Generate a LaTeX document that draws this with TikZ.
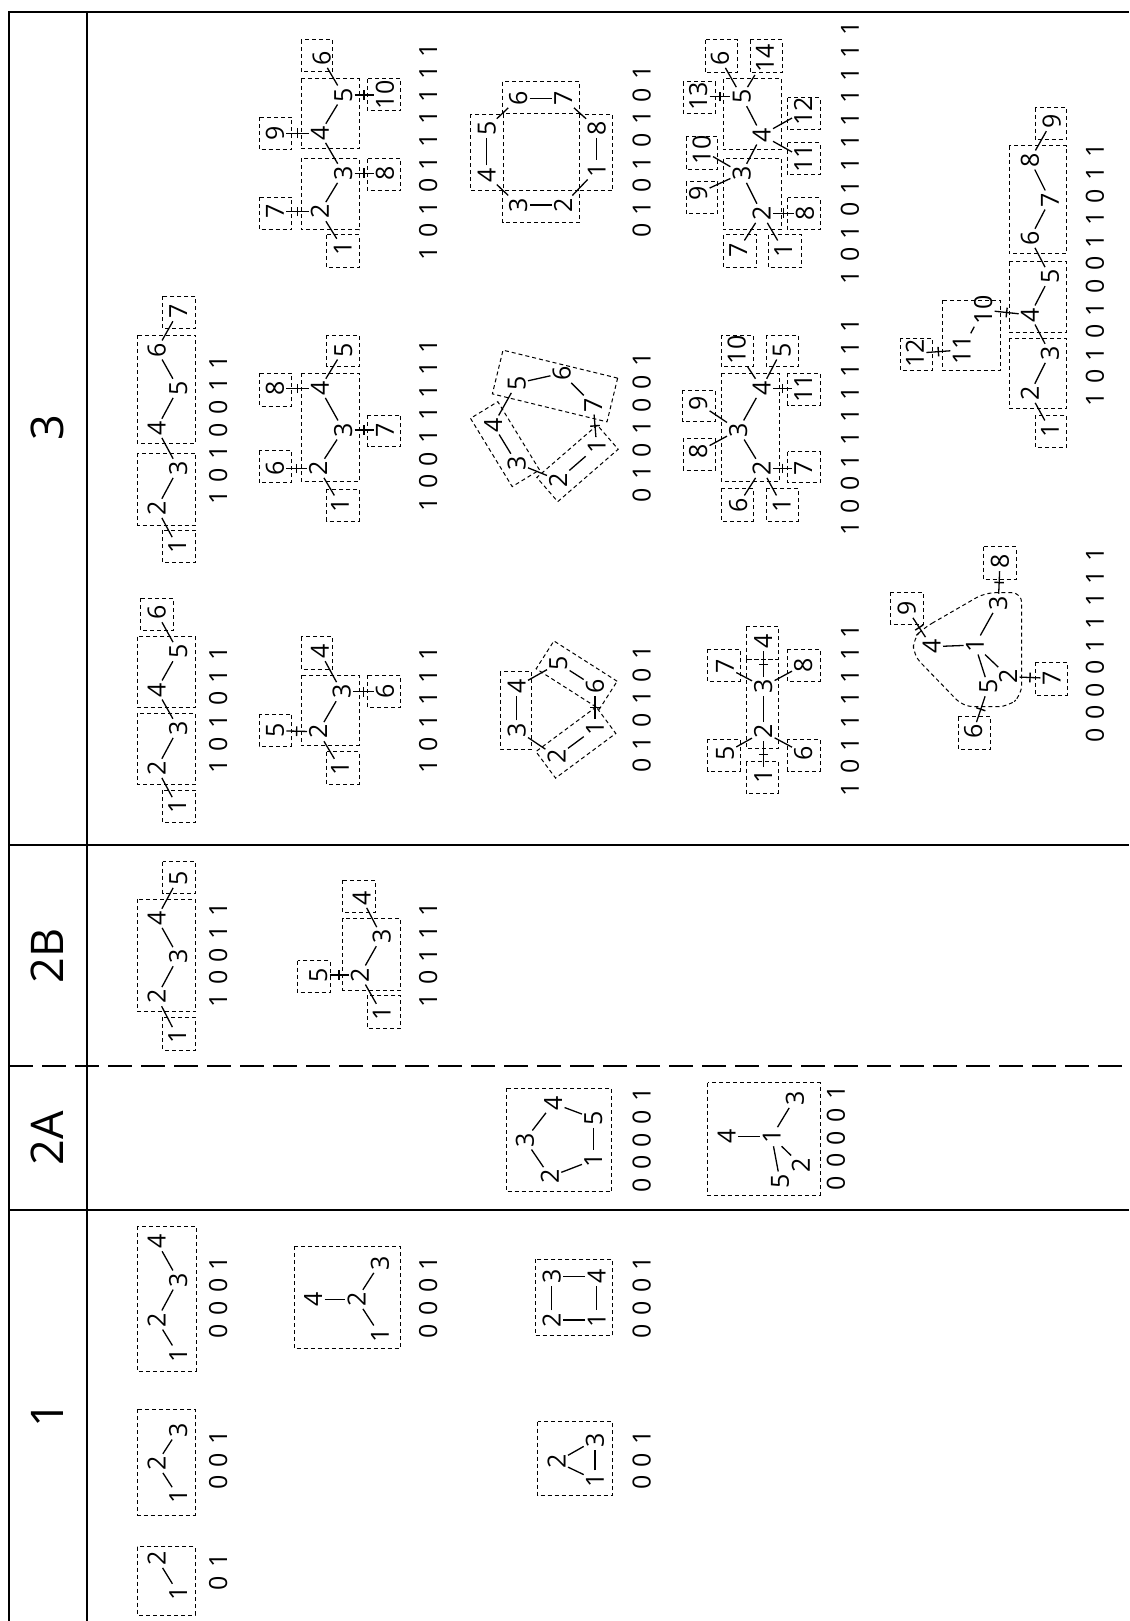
\documentclass[tikz,border=0pt]{standalone}
\usepackage{fontspec}
\setmainfont{Open Sans}
\usetikzlibrary{decorations.markings}
\newcommand\nf{\fontsize{12.5}{15}\selectfont}
\newcommand\hf{\fontsize{22.5}{27}\selectfont}
\newcommand\bitsloop[1]{\ifx\relax#1\else\makebox[11.3pt]{#1}\expandafter\bitsloop\fi}
\newcommand\bitstr[1]{\bitsloop#1\relax}
\newcommand\vx[4]{\node[v] (#1) at (#2,#3) {#4};}
\newcommand\bxr[4]{\draw[bx] (#1,#2) rectangle (#3,#4);}
\newcommand\edg[2]{\draw[e] (#1) -- (#2);}
\newcommand\edt[2]{\draw[tk] (#1) -- (#2);}
\newcommand\bnode[4]{\node[bt] (#1) at (#2,#3) {\bitstr{#4}};}
\begin{document}
\begin{tikzpicture}[x=0.5pt,y=-0.5pt,
 v/.style={rotate=90,font=\nf,inner sep=1pt,text height=8.9pt,text depth=0pt},
 bt/.style={rotate=90,font=\nf,inner sep=0pt,text height=8.9pt,text depth=0pt},
 hd/.style={rotate=90,font=\hf,inner sep=0pt},
 bx/.style={draw,line width=0.5pt,dash pattern=on 2pt off 1.5pt},
 e/.style={line width=0.65pt},
 tk/.style={line width=0.65pt,postaction={decorate,decoration={markings,mark=at position 0.5 with {\draw[line width=0.7pt] (0pt,-2.4pt) -- (0pt,2.4pt);}}}},
 fr/.style={line width=1pt},
 sep/.style={line width=0.6pt}]
\useasboundingbox (0,0) rectangle (1129,1621);
% frame
\draw[fr] (9,1621) -- (9,12) -- (1129,12);
\draw[fr] (87,12) -- (87,1621);
\draw[sep] (9,845) -- (1129,845);
\draw[sep] (9,1210) -- (1129,1210);
\draw[line width=0.75pt,dash pattern=on 12pt off 4.5pt] (9,1066) -- (1129,1066);
\node[hd] (hC) at (47,428) {3};
\node[hd] (hB) at (47,956) {2B};
\node[hd] (hA) at (47,1138) {2A};
\node[hd] (hO) at (47,1415) {1};
% ---- column 1
\bxr{137.3}{1546.7}{195}{1615}
\vx{a1}{178.3}{1593.3}{1}\vx{a2}{156.7}{1558.3}{2}
\edg{a1}{a2}
\bnode{ab}{218.3}{1572}{01}
\bxr{137.3}{1409.3}{195}{1515}
\vx{b1}{178.3}{1496.7}{1}\vx{b2}{156.7}{1463.3}{2}\vx{b3}{178.3}{1430}{3}
\edg{b1}{b2}\edg{b2}{b3}
\bnode{bb}{218.3}{1460}{001}
\bxr{137.3}{1226}{196}{1371}
\vx{c1}{178.3}{1355}{1}\vx{c2}{156.7}{1320}{2}\vx{c3}{178.3}{1280}{3}\vx{c4}{156.7}{1241.7}{4}
\edg{c1}{c2}\edg{c2}{c3}\edg{c3}{c4}
\bnode{cb}{218.3}{1297}{0001}
\bxr{294.3}{1246}{400}{1348.7}
\vx{d4}{313.3}{1299.3}{4}\vx{d2}{356.7}{1299.3}{2}\vx{d3}{380}{1263.3}{3}\vx{d1}{380}{1335}{1}
\edg{d4}{d2}\edg{d2}{d3}\edg{d2}{d1}
\bnode{db}{428.3}{1297}{0001}
\bxr{535}{1259.3}{612.3}{1335.7}
\vx{e3}{551.7}{1276.7}{3}\vx{e4}{596.7}{1276.7}{4}\vx{e2}{551.7}{1320}{2}\vx{e1}{596.7}{1320}{1}
\edg{e2}{e3}\edg{e3}{e4}\edg{e4}{e1}\edg{e1}{e2}
\bnode{eb}{641.7}{1297}{0001}
\bxr{537.7}{1421.7}{612.3}{1495.7}
\vx{f2}{556.7}{1461.7}{2}\vx{f3}{595}{1440}{3}\vx{f1}{595}{1480}{1}
\edg{f2}{f3}\edg{f2}{f1}\edg{f1}{f3}
\bnode{fb}{641.7}{1460}{001}
% ---- column 2A
\bxr{506}{1088.3}{611.7}{1191.7}
\vx{g4}{553.3}{1103.3}{4}\vx{g5}{593.3}{1118.3}{5}\vx{g1}{593.3}{1160}{1}\vx{g2}{550}{1176.7}{2}\vx{g3}{525}{1140}{3}
\edg{g3}{g4}\edg{g4}{g5}\edg{g5}{g1}\edg{g1}{g2}\edg{g2}{g3}
\bnode{gb}{641.7}{1140}{00001}
\bxr{707.7}{1082.7}{820}{1195}
\vx{h4}{726.7}{1136.7}{4}\vx{h1}{771.7}{1136.7}{1}\vx{h3}{795}{1098.3}{3}\vx{h2}{801}{1165}{2}\vx{h5}{780}{1181}{5}
\edg{h4}{h1}\edg{h1}{h3}\edg{h1}{h2}\edg{h1}{h5}
\bnode{hb}{836}{1138}{00001}
% ---- column 2B
\bxr{162.7}{1017.3}{195.7}{1050}\bxr{137.3}{899.3}{195.7}{1011.7}\bxr{162.7}{861.7}{195.7}{893.3}
\vx{i1}{177.3}{1036.7}{1}\vx{i2}{156.7}{996.7}{2}\vx{i3}{178.3}{956.7}{3}\vx{i4}{156.7}{918.3}{4}\vx{i5}{178.3}{878.3}{5}
\edg{i1}{i2}\edg{i2}{i3}\edg{i3}{i4}\edg{i4}{i5}
\bnode{ib}{218.3}{955}{10011}
\bxr{342.7}{918.3}{400.7}{990}\bxr{297.7}{960.7}{330}{992.7}\bxr{367.7}{995}{400.7}{1028.3}\bxr{342.7}{880}{375}{912.7}
\vx{j5}{318.3}{975}{5}\vx{j2}{360}{975}{2}\vx{j3}{381.7}{936.7}{3}\vx{j4}{361.7}{898.3}{4}\vx{j1}{381.7}{1013.3}{1}
\edg{j1}{j2}\edg{j2}{j3}\edg{j3}{j4}\edt{j5}{j2}
\bnode{jb}{428.3}{955}{10111}
% ---- column 3, row 1
\bxr{162.7}{790}{195.7}{822.7}\bxr{137.3}{713.3}{195.7}{784.3}\bxr{137.3}{636.7}{195.7}{707.3}\bxr{140.7}{598.3}{173.3}{630.7}
\vx{k1}{177.3}{806.7}{1}\vx{k2}{156.7}{768.3}{2}\vx{k3}{178.3}{728.3}{3}\vx{k4}{156.7}{690}{4}\vx{k5}{178.3}{651.7}{5}\vx{k6}{156.7}{612.7}{6}
\edg{k1}{k2}\edg{k2}{k3}\edg{k3}{k4}\edg{k4}{k5}\edg{k5}{k6}
\bnode{kb}{218.3}{710}{101011}
\bxr{162.7}{530}{195.7}{562.7}\bxr{137.3}{453.3}{195.7}{525}\bxr{137.3}{335}{195.7}{443.3}\bxr{162.7}{296}{195.7}{328.3}
\vx{l1}{177.3}{546.7}{1}\vx{l2}{156.7}{508.3}{2}\vx{l3}{178.3}{468.3}{3}\vx{l4}{156.7}{428.3}{4}\vx{l5}{178.3}{388.3}{5}\vx{l6}{156.7}{350}{6}\vx{l7}{178.3}{311.7}{7}
\edg{l1}{l2}\edg{l2}{l3}\edg{l3}{l4}\edg{l4}{l5}\edg{l5}{l6}\edg{l6}{l7}
\bnode{lb}{218.3}{430}{1010011}
% ---- row 2
\bxr{301}{675}{359}{745.7}\bxr{326.7}{751.7}{359}{784}\bxr{301}{636.7}{332.7}{669}\bxr{259.3}{714}{291.7}{746}\bxr{367.7}{675}{400.7}{707.3}
\vx{m1}{340}{768.3}{1}\vx{m2}{318.3}{731.7}{2}\vx{m3}{341.7}{691.7}{3}\vx{m4}{320}{651.7}{4}\vx{m5}{275}{730.7}{5}\vx{m6}{385}{691.7}{6}
\edg{m1}{m2}\edg{m2}{m3}\edg{m3}{m4}\edt{m5}{m2}\edt{m3}{m6}
\bnode{mb}{428.3}{710}{101111}
\bxr{326.7}{489}{359}{521}\bxr{259.3}{450.7}{291.7}{482.7}\bxr{301}{373.3}{359}{481.7}\bxr{326.7}{335}{359}{366.7}\bxr{259.3}{373.3}{291.7}{406}\bxr{367.7}{415}{400.7}{446.7}
\vx{n1}{340}{505}{1}\vx{n2}{318.3}{468.3}{2}\vx{n3}{343.3}{430}{3}\vx{n4}{320}{388.3}{4}\vx{n5}{343.3}{350}{5}\vx{n6}{275}{468.3}{6}\vx{n7}{385}{430}{7}\vx{n8}{275}{388.3}{8}
\edg{n1}{n2}\edg{n2}{n3}\edg{n3}{n4}\edg{n4}{n5}\edt{n6}{n2}\edt{n8}{n4}\edt{n3}{n7}
\bnode{nb}{428.3}{425}{10011111}
\bxr{326.7}{235}{359}{267.7}\bxr{301}{158.3}{359}{230}\bxr{301}{79}{359}{149}\bxr{301}{40}{332.7}{71.7}\bxr{259.3}{197.3}{291.7}{230}\bxr{259.3}{117.3}{291.7}{150}\bxr{367.7}{159}{400.7}{191}\bxr{367.7}{79}{400.7}{111}
\vx{o1}{342.7}{248.3}{1}\vx{o2}{320}{211.7}{2}\vx{o3}{343.3}{173.3}{3}\vx{o4}{320}{133.3}{4}\vx{o5}{343.3}{95}{5}\vx{o6}{321.7}{58.3}{6}\vx{o7}{275}{211.7}{7}\vx{o8}{385}{173.3}{8}\vx{o9}{275}{133.3}{9}\vx{o10}{385}{95}{10}
\edg{o1}{o2}\edg{o2}{o3}\edg{o3}{o4}\edg{o4}{o5}\edg{o5}{o6}\edt{o7}{o2}\edt{o9}{o4}\edt{o3}{o8}\edt{o5}{o10}
\bnode{ob}{428.3}{151.7}{1010111111}
% ---- row 3
\bxr{500}{671.7}{531.7}{749}
\vx{p3}{516.7}{730}{3}\vx{p4}{516.7}{686.7}{4}\vx{p5}{558.3}{663.3}{5}\vx{p6}{595}{686.7}{6}\vx{p1}{595}{728.3}{1}\vx{p2}{556.7}{756.7}{2}
\path (p5) -- node[bx,sloped,minimum width=37.5pt,minimum height=16.5pt] (p56) {} (p6);
\path (p2) -- node[bx,sloped,minimum width=37.5pt,minimum height=16.5pt] (p12) {} (p1);
\edg{p3}{p4}\edg{p4}{p5}\edg{p5}{p6}\edt{p6}{p1}\edg{p1}{p2}\edg{p2}{p3}
\bnode{pb}{641.7}{709}{010101}
\vx{q5}{516.7}{383.3}{5}\vx{q6}{561.7}{373.3}{6}\vx{q7}{593.3}{405}{7}\vx{q1}{596.7}{446.7}{1}\vx{q2}{558.3}{480}{2}\vx{q3}{516.7}{463.3}{3}\vx{q4}{493.3}{425}{4}
\node[bx,rotate=-13.7,minimum width=59pt,minimum height=22.5pt] (q567) at (555,386) {};
\path (q2) -- node[bx,sloped,minimum width=40pt,minimum height=16pt] (q12) {} (q1);
\path (q4) -- node[bx,sloped,minimum width=40pt,minimum height=16pt] (q34) {} (q3);
\edg{q4}{q5}\edg{q5}{q6}\edg{q6}{q7}\edt{q7}{q1}\edg{q1}{q2}\edg{q2}{q3}\edg{q3}{q4}
\bnode{qb}{641.7}{427.5}{0101001}
\bxr{470.7}{114.3}{503.3}{191}\bxr{502.7}{81.7}{579.3}{113.3}\bxr{579.3}{114.3}{612.3}{191}\bxr{502.7}{191}{579.3}{222.7}
\vx{r4}{486.7}{175}{4}\vx{r5}{486.7}{128.3}{5}\vx{r6}{518.3}{98.3}{6}\vx{r7}{563.3}{98.3}{7}\vx{r8}{596.7}{128.3}{8}\vx{r1}{596.7}{170}{1}\vx{r2}{563.3}{205}{2}\vx{r3}{518.3}{205}{3}
\edg{r4}{r5}\edg{r5}{r6}\edg{r6}{r7}\edg{r7}{r8}\edg{r8}{r1}\edg{r1}{r2}\edg{r2}{r3}\edg{r3}{r4}
\bnode{rb}{641.7}{151.7}{01010101}
% ---- row 4
\bxr{746}{659.3}{778.3}{748.3}\bxr{746}{626.7}{778.3}{659.3}\bxr{746}{761.7}{778.3}{793.3}\bxr{707.7}{739.3}{740}{771}\bxr{787.7}{739.3}{820}{771}\bxr{707.7}{649.3}{740}{681.7}\bxr{787.7}{649.3}{820}{681.7}
\vx{s1}{763.3}{776.7}{1}\vx{s2}{763.3}{731.7}{2}\vx{s3}{763.3}{686.7}{3}\vx{s4}{763.3}{641.7}{4}\vx{s5}{725}{753.3}{5}\vx{s6}{803.3}{753.3}{6}\vx{s7}{725}{666.7}{7}\vx{s8}{803.3}{665}{8}
\edt{s1}{s2}\edg{s2}{s3}\edt{s3}{s4}\edg{s2}{s5}\edg{s2}{s6}\edg{s3}{s7}\edg{s3}{s8}
\bnode{sb}{850}{710}{10111111}
\bxr{721}{373.3}{779}{481.7}\bxr{721}{335}{753.3}{366.7}\bxr{766}{335}{798.3}{366.7}\bxr{787.7}{373.3}{820}{405}\bxr{682.7}{390}{715}{421.7}\bxr{683.3}{438.3}{715}{470}\bxr{721}{488.3}{753.3}{521}\bxr{766}{488.3}{798.3}{521}\bxr{787.7}{451.7}{820}{482.7}
\vx{t1}{781.7}{505}{1}\vx{t2}{761.7}{468.3}{2}\vx{t3}{738.3}{430}{3}\vx{t4}{761.7}{388.3}{4}\vx{t5}{781.7}{350}{5}\vx{t6}{738.3}{505}{6}\vx{t7}{803.3}{468.3}{7}\vx{t8}{698.3}{451.7}{8}\vx{t9}{698.3}{403.3}{9}\vx{t10}{736.7}{350}{10}\vx{t11}{803.3}{388.3}{11}
\edg{t1}{t2}\edg{t6}{t2}\edg{t2}{t3}\edg{t3}{t4}\edg{t4}{t5}\edg{t10}{t4}\edg{t8}{t3}\edg{t9}{t3}\edt{t7}{t2}\edt{t4}{t11}
\bnode{tb}{850}{427}{1001111111}
\bxr{723.3}{159}{781.7}{230}\bxr{723.3}{79}{781.7}{150}\bxr{768.3}{235}{801.7}{267.7}\bxr{723.3}{235}{756.7}{267.7}\bxr{787.7}{197.7}{820}{230}\bxr{686}{181.7}{717.7}{213.3}\bxr{686}{136.7}{717.7}{169.3}\bxr{787.7}{142.7}{820}{175}\bxr{787.7}{97.7}{820}{130}\bxr{683.3}{81.7}{715}{113.3}\bxr{705}{40}{737.7}{72.7}\bxr{750}{40}{782.3}{72.7}
\vx{u1}{783.3}{250}{1}\vx{u2}{761.7}{213.3}{2}\vx{u7}{738.3}{250}{7}\vx{u8}{805}{213.3}{8}\vx{u3}{741.7}{173.3}{3}\vx{u9}{698.3}{193.3}{9}\vx{u10}{701.7}{150}{10}\vx{u4}{761.7}{135}{4}\vx{u11}{803.3}{158.3}{11}\vx{u12}{803.3}{111.7}{12}\vx{u5}{741.7}{96.7}{5}\vx{u6}{720}{58.3}{6}\vx{u14}{765}{58.3}{14}\vx{u13}{698.3}{96.7}{13}
\edg{u1}{u2}\edg{u7}{u2}\edg{u2}{u3}\edg{u3}{u9}\edg{u3}{u10}\edg{u3}{u4}\edg{u4}{u11}\edg{u4}{u12}\edg{u4}{u5}\edg{u5}{u6}\edg{u5}{u14}\edt{u2}{u8}\edt{u13}{u5}
\bnode{ub}{850}{153}{101011111111}
% ---- row 5
\draw[bx,rounded corners=5pt] (923.3,628.3) -- (985,592.7) -- (1021.7,592.7) -- (1021.7,695) -- (1008.3,706.7) -- (963.3,706.7) -- (913.3,655) -- (913.3,638.3) -- cycle;
\bxr{983.3}{546.7}{1016}{579.3}\bxr{890.7}{592.3}{923.3}{624.3}\bxr{1035}{662.3}{1067.3}{695}\bxr{958.3}{716.7}{990.7}{749}
\vx{w1}{975}{645}{1}\vx{w2}{1008.3}{676.7}{2}\vx{w3}{998.3}{603.3}{3}\vx{w4}{931.7}{646.7}{4}\vx{w5}{988.3}{686.7}{5}\vx{w6}{973.3}{731.7}{6}\vx{w7}{1051.7}{678.3}{7}\vx{w8}{1000}{561.7}{8}\vx{w9}{906.7}{608.3}{9}
\edg{w4}{w1}\edg{w1}{w3}\edg{w1}{w2}\edg{w1}{w5}\edt{w3}{w8}\edt{w2}{w7}\edt{w4}{w9}\edt{w5}{w6}
\bnode{wb}{1095}{645}{000011111}
\bxr{1009.3}{338.3}{1066.7}{408.3}\bxr{1009.3}{261.7}{1066.7}{332.3}\bxr{1009.3}{146}{1066.7}{254}\bxr{1035}{107.7}{1066.7}{140}\bxr{942.3}{300}{1000}{370.7}\bxr{900}{338.3}{932.3}{370.7}\bxr{1035}{415}{1066.7}{447}
\vx{x1}{1050}{430}{1}\vx{x2}{1030}{393.3}{2}\vx{x3}{1050}{353.3}{3}\vx{x4}{1030}{315}{4}\vx{x5}{1050}{276.7}{5}\vx{x6}{1030}{238.3}{6}\vx{x7}{1050}{200}{7}\vx{x8}{1030}{160}{8}\vx{x9}{1051.7}{121.7}{9}\vx{x10}{983.3}{310}{10}\vx{x11}{961.7}{350}{11}\vx{x12}{915}{353.3}{12}
\edg{x1}{x2}\edg{x2}{x3}\edg{x3}{x4}\edg{x4}{x5}\edg{x5}{x6}\edg{x6}{x7}\edg{x7}{x8}\edg{x8}{x9}\edt{x10}{x4}\edg{x11}{x10}\edt{x12}{x11}
\bnode{xb}{1095}{275}{101010011011}
\end{tikzpicture}
\end{document}
